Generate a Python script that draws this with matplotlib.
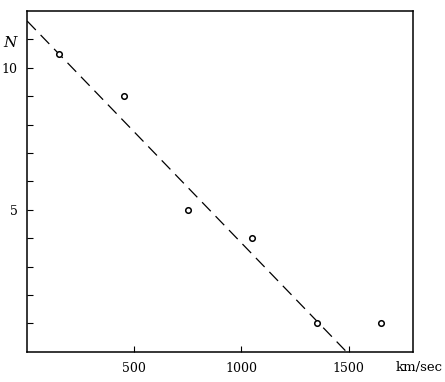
import matplotlib
matplotlib.use("Agg")
import matplotlib.pyplot as plt

# observed points: velocity (km/sec) vs number N
velocity = [150, 450, 750, 1050, 1350, 1650]
count = [10.5, 9, 5, 4, 1, 1]

# fitted dashed line end points
line_v = [0, 1490]
line_n = [11.65, 0]

plt.rcParams['font.family'] = ['DejaVu Serif']

fig = plt.figure(figsize=(4.45, 3.82), dpi=100)
ax = fig.add_axes([0.061, 0.079, 0.867, 0.892])

ax.plot(line_v, line_n, color='black', linewidth=0.9, linestyle=(0, (10, 5.5)))
ax.plot(velocity, count, linestyle='none', marker='o', markersize=4,
        markerfacecolor='white', markeredgecolor='black', markeredgewidth=1.1)

ax.set_xlim(0, 1800)
ax.set_ylim(0, 12)

ax.set_xticks([500, 1000, 1500])
ax.set_xticklabels(['500', '1000', '1500'], fontsize=9)
ax.set_yticks(range(1, 12))
ax.set_yticklabels(['5' if t == 5 else '10' if t == 10 else '' for t in range(1, 12)], fontsize=9)
ax.tick_params(direction='in', length=4, width=0.8, pad=7)

for s in ax.spines.values():
    s.set_linewidth(1.1)

ax.text(-0.045, 0.905, 'N', transform=ax.transAxes, fontsize=11, style='italic',
        ha='center', va='center')
ax.text(1.015, -0.045, 'km/sec', transform=ax.transAxes, fontsize=9.5,
        ha='center', va='center')

fig.savefig('out.png', dpi=100)
